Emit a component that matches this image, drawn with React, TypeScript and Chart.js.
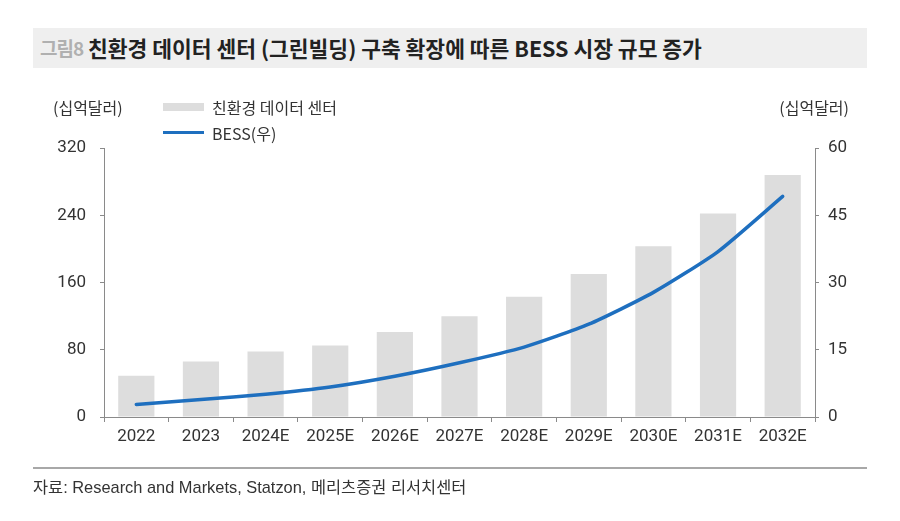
import React, { useEffect, useRef } from "react";
import { Chart, registerables } from "chart.js";

Chart.register(...registerables);

const categories = ["2022", "2023", "2024E", "2025E", "2026E", "2027E", "2028E", "2029E", "2030E", "2031E", "2032E"];
const greenDataCenter = [49, 66, 78, 85, 101, 120, 143, 170, 203, 242, 288];
const bessMarket = [2.8, 3.9, 5.1, 6.7, 9.1, 12.1, 15.6, 20.7, 27.8, 36.9, 49.2];
const leftAxisRange = [0, 320, 80];
const rightAxisRange = [0, 60, 15];

const KR = "'Noto Sans CJK KR', sans-serif";
const NUM = "Roboto, 'Noto Sans CJK KR', sans-serif";
const BAR_COLOR = "#dddddd";
const LINE_COLOR = "#1e6fbf";
const AXIS_COLOR = "#8a8a8a";

export default function App() {
  const canvasRef = useRef<HTMLCanvasElement | null>(null);

  useEffect(() => {
    const canvas = canvasRef.current;
    if (!canvas) return;
    const chart = new Chart(canvas, {
      type: "bar",
      data: {
        labels: categories,
        datasets: [
          {
            type: "line",
            label: "BESS(우)",
            data: bessMarket,
            yAxisID: "y1",
            borderColor: LINE_COLOR,
            backgroundColor: LINE_COLOR,
            borderWidth: 3.5,
            pointRadius: 0,
            tension: 0.2,
            borderCapStyle: "round",
            order: 0,
          } as any,
          {
            type: "bar",
            label: "친환경 데이터 센터",
            data: greenDataCenter,
            yAxisID: "y",
            backgroundColor: BAR_COLOR,
            borderWidth: 0,
            categoryPercentage: 1,
            barPercentage: 0.56,
            order: 1,
          } as any,
        ],
      },
      options: {
        responsive: false,
        animation: false,
        layout: { padding: { top: 148, left: 0, right: 0, bottom: 0 } },
        plugins: { legend: { display: false }, tooltip: { enabled: false }, title: { display: false } },
        scales: {
          x: {
            offset: true,
            grid: { display: true, drawOnChartArea: false, drawTicks: true, tickLength: 5, color: AXIS_COLOR, offset: true },
            border: { display: true, color: AXIS_COLOR, width: 1 },
            ticks: { color: "#333", font: { family: NUM, size: 17 }, padding: 5, maxRotation: 0, autoSkip: false },
            afterFit: (s: any) => { s.height = 104; },
          },
          y: {
            position: "left",
            min: leftAxisRange[0],
            max: leftAxisRange[1],
            grid: { display: true, drawOnChartArea: false, drawTicks: true, tickLength: 4, color: AXIS_COLOR },
            border: { display: true, color: AXIS_COLOR, width: 1 },
            ticks: { stepSize: leftAxisRange[2], color: "#333", font: { family: NUM, size: 17 }, padding: 14 },
            afterFit: (s: any) => { s.width = 104; },
          },
          y1: {
            position: "right",
            min: rightAxisRange[0],
            max: rightAxisRange[1],
            grid: { display: true, drawOnChartArea: false, drawTicks: true, tickLength: 4, color: AXIS_COLOR },
            border: { display: true, color: AXIS_COLOR, width: 1 },
            ticks: { stepSize: rightAxisRange[2], color: "#333", font: { family: NUM, size: 17 }, padding: 9 },
            afterFit: (s: any) => { s.width = 85; },
          },
        },
      },
    });
    return () => chart.destroy();
  }, []);

  const abs = (style: React.CSSProperties): React.CSSProperties => ({ position: "absolute", whiteSpace: "nowrap", ...style });

  return (
    <div style={{ position: "absolute", left: 0, top: 0, width: 900, height: 521, background: "#fff", overflow: "hidden", fontFamily: KR }}>
      <div style={abs({ left: 33, top: 28, width: 834, height: 40, background: "#efefef" })} />
      <div style={abs({ left: 40, top: 28, height: 40, lineHeight: "40px", fontSize: 19, fontWeight: 700, color: "#b0b0b0", letterSpacing: -1 })}>그림8</div>
      <div style={abs({ left: 88, top: 28, height: 40, lineHeight: "40px", fontSize: 21.5, fontWeight: 700, color: "#222" })}>
        친환경 데이터 센터 (그린빌딩) 구축 확장에 따른 BESS 시장 규모 증가
      </div>

      <canvas ref={canvasRef} width={900} height={521} style={{ position: "absolute", left: 0, top: 0, width: 900, height: 521 }} />

      <div style={abs({ left: 53, top: 96, lineHeight: "22px", fontSize: 16, color: "#333" })}>(십억달러)</div>
      <div style={abs({ right: 900 - 849, top: 96, lineHeight: "22px", fontSize: 16, color: "#333" })}>(십억달러)</div>

      <div style={abs({ left: 163, top: 103, width: 41, height: 8, background: BAR_COLOR })} />
      <div style={abs({ left: 212, top: 96, lineHeight: "22px", fontSize: 16, color: "#333" })}>친환경 데이터 센터</div>
      <div style={abs({ left: 163, top: 131, width: 41, height: 3, background: LINE_COLOR })} />
      <div style={abs({ left: 212, top: 122, lineHeight: "22px", fontSize: 16, color: "#333" })}>BESS(우)</div>

      <div style={abs({ left: 33, top: 467, width: 834, height: 2, background: "#a8a8a8" })} />
      <div style={abs({ left: 33, top: 476, lineHeight: "22px", fontSize: 16.4, color: "#333", fontFamily: "'Liberation Sans', 'Noto Sans CJK KR', sans-serif" })}>
        자료: Research and Markets, Statzon, 메리츠증권 리서치센터
      </div>
    </div>
  );
}
